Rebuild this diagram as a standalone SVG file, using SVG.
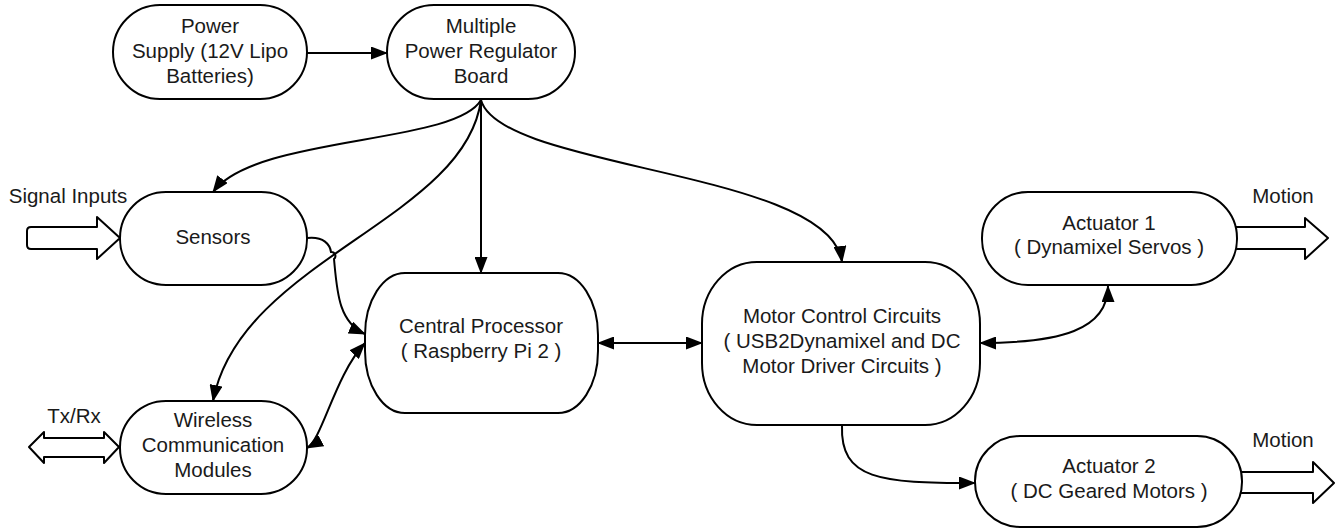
<svg xmlns="http://www.w3.org/2000/svg" width="1340" height="529" viewBox="0 0 1340 529">
<style>
.n{fill:#fff;stroke:#000;stroke-width:2}
.t{font-family:"Liberation Sans",Arial,sans-serif;font-size:20.5px;text-anchor:middle;fill:#1a1a1a}
.c{fill:none;stroke:#000;stroke-width:2}
.h{fill:#fff;stroke:#000;stroke-width:2;stroke-linejoin:round}
</style>
<defs>
<marker id="ah" markerUnits="userSpaceOnUse" markerWidth="17" markerHeight="13" refX="16" refY="6.5" orient="auto-start-reverse" viewBox="0 0 17 13">
<path d="M0,0 L17,6.5 L0,13 z" fill="#000"/>
</marker>
</defs>
<rect width="1340" height="529" fill="#fff"/>
<g id="io-arrows">
<path class="h" d="M31,227 L97,227 L97,217 L120,238 L97,259 L97,249 L31,249 Q27,249 27,245 L27,231 Q27,227 31,227 Z"/>
<path class="h" d="M29,447 L44,432 L44,438 L104,438 L104,432 L119,447 L104,463 L104,457 L44,457 L44,463 Z"/>
<path class="h" d="M1230,227 L1305,227 L1305,218 L1328,238 L1305,259 L1305,249 L1230,249 Z"/>
<path class="h" d="M1234,472 L1313,472 L1313,462 L1334,483 L1313,503 L1313,493 L1234,493 Z"/>
</g>
<g id="connectors">
<path class="c" d="M307,53 L387,53" marker-end="url(#ah)"/>
<path class="c" d="M481,100 L481,273" marker-end="url(#ah)"/>
<path class="c" d="M481,100 C455,145 255,135 213,192" marker-end="url(#ah)"/>
<path class="c" d="M481,100 C465,220 240,260 213,401" marker-end="url(#ah)"/>
<path class="c" d="M481,100 C500,170 830,170 842,262" marker-end="url(#ah)"/>
<path class="c" d="M307,238 C324,236 330,245 331,252 A4,4 0 0 1 334,259 C337,290 338,322 365,334" marker-end="url(#ah)"/>
<path class="c" d="M307,448 C322,440 335,375 365,343" marker-start="url(#ah)" marker-end="url(#ah)"/>
<path class="c" d="M598,343 L702,343" marker-start="url(#ah)" marker-end="url(#ah)"/>
<path class="c" d="M980,343 C1060,343 1108,330 1108,286" marker-start="url(#ah)" marker-end="url(#ah)"/>
<path class="c" d="M842,425 C840,480 880,483 975,483" marker-end="url(#ah)"/>
</g>
<g id="power-supply">
<rect class="n" x="113" y="5" width="194" height="94" rx="47"/>
<text class="t" x="210" y="33">Power</text>
<text class="t" x="210" y="58">Supply (12V Lipo</text>
<text class="t" x="210" y="83">Batteries)</text>
</g>
<g id="regulator">
<rect class="n" x="387" y="5" width="188" height="94" rx="47"/>
<text class="t" x="481" y="33">Multiple</text>
<text class="t" x="481" y="58">Power Regulator</text>
<text class="t" x="481" y="83">Board</text>
</g>
<g id="sensors">
<rect class="n" x="120" y="192" width="187" height="93" rx="46"/>
<text class="t" x="213" y="244">Sensors</text>
</g>
<g id="wireless">
<rect class="n" x="120" y="401" width="187" height="93" rx="46"/>
<text class="t" x="213" y="427">Wireless</text>
<text class="t" x="213" y="452">Communication</text>
<text class="t" x="213" y="477">Modules</text>
</g>
<g id="central">
<rect class="n" x="365" y="273" width="233" height="140" rx="40" ry="62"/>
<text class="t" x="481" y="333">Central Processor</text>
<text class="t" x="481" y="358">( Raspberry Pi 2 )</text>
</g>
<g id="motor">
<rect class="n" x="702" y="262" width="278" height="163" rx="55" ry="62"/>
<text class="t" x="842" y="323">Motor Control Circuits</text>
<text class="t" x="842" y="348">( USB2Dynamixel and DC</text>
<text class="t" x="842" y="373">Motor Driver Circuits )</text>
</g>
<g id="actuator1">
<rect class="n" x="982" y="192" width="255" height="93" rx="46"/>
<text class="t" x="1109" y="230">Actuator 1</text>
<text class="t" x="1109" y="254">( Dynamixel Servos )</text>
</g>
<g id="actuator2">
<rect class="n" x="975" y="436" width="267" height="91" rx="45"/>
<text class="t" x="1109" y="473">Actuator 2</text>
<text class="t" x="1109" y="498">( DC Geared Motors )</text>
</g>
<g id="labels">
<text class="t" x="68" y="203">Signal Inputs</text>
<text class="t" x="74" y="423">Tx/Rx</text>
<text class="t" x="1283" y="203">Motion</text>
<text class="t" x="1283" y="447">Motion</text>
</g>
</svg>
